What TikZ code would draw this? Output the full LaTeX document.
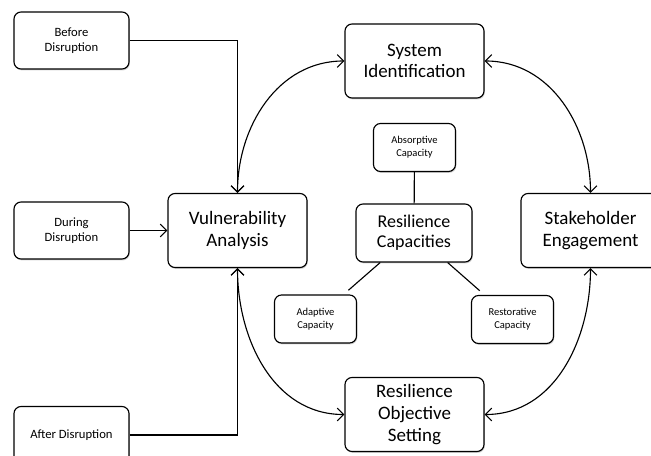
\documentclass[tikz,border=0pt]{standalone}
\usepackage{fontspec}
\setmainfont{Carlito}
\usetikzlibrary{arrows.meta,shadows}

\begin{document}
\begin{tikzpicture}[
    >={Straight Barb[length=1.6mm,width=3.2mm]},
    box/.style={draw, line width=0.8pt, rounded corners=5pt, fill=white, align=center,
                drop shadow={shadow xshift=0.6pt, shadow yshift=-1pt, opacity=0.35}},
    bigbox/.style={box, minimum width=3.475cm, minimum height=1.85cm, font=\fontsize{13.5}{15.5}\selectfont},
    phasebox/.style={box, minimum width=2.875cm, minimum height=1.425cm, font=\fontsize{9}{11}\selectfont},
    capbox/.style={box, minimum width=2.05cm, minimum height=1.2cm, font=\fontsize{7.5}{9.5}\selectfont},
    arr/.style={line width=0.8pt, ->},
    twoway/.style={line width=0.8pt, <->},
  ]
  \useasboundingbox (0,0) rectangle (16.275,-11.4);

  % Phases of disruption
  \node[phasebox] (before) at (1.7875,-1.0125) {Before\\Disruption};
  \node[phasebox] (during) at (1.7875,-5.7625) {During\\Disruption};
  \node[phasebox] (after)  at (1.7875,-10.875) {After Disruption};

  % Main cycle
  \node[bigbox] (vuln)   at (5.9375,-5.7625)  {Vulnerability\\Analysis};
  \node[bigbox] (sysid)  at (10.3625,-1.525)  {System\\Identification};
  \node[bigbox] (stake)  at (14.7625,-5.7625) {Stakeholder\\Engagement};
  \node[bigbox] (resobj) at (10.3625,-10.3625) {Resilience\\Objective\\Setting};

  % Resilience capacities
  \node[box, minimum width=2.9cm, minimum height=1.45cm, font=\fontsize{12.8}{14.5}\selectfont]
    (rescap) at (10.35,-5.825) {Resilience\\Capacities};
  \node[capbox] (absorb) at (10.3625,-3.6875) {Absorptive\\Capacity};
  \node[capbox] (adapt)  at (7.8875,-7.975)   {Adaptive\\Capacity};
  \node[capbox] (restor) at (12.8125,-7.9875) {Restorative\\Capacity};

  % Capacity links
  \draw[line width=0.8pt] (absorb) -- (rescap);
  \draw[line width=0.8pt, shorten >=0.16cm] (rescap) -- (adapt);
  \draw[line width=0.8pt, shorten >=0.16cm] (rescap) -- (restor);

  % Inputs to vulnerability analysis
  \draw[arr] (before) -| (vuln);
  \draw[arr] (during) -- (vuln);
  \draw[arr] (after) -| (vuln);

  % Cycle arrows
  \draw[twoway] (vuln.north) to[out=90, in=180] (sysid.west);
  \draw[twoway] (sysid.east) to[out=0, in=90] (stake.north);
  \draw[twoway] (stake.south) to[out=-90, in=0] (resobj.east);
  \draw[twoway] (vuln.south) to[out=-90, in=180] (resobj.west);
\end{tikzpicture}
\end{document}
